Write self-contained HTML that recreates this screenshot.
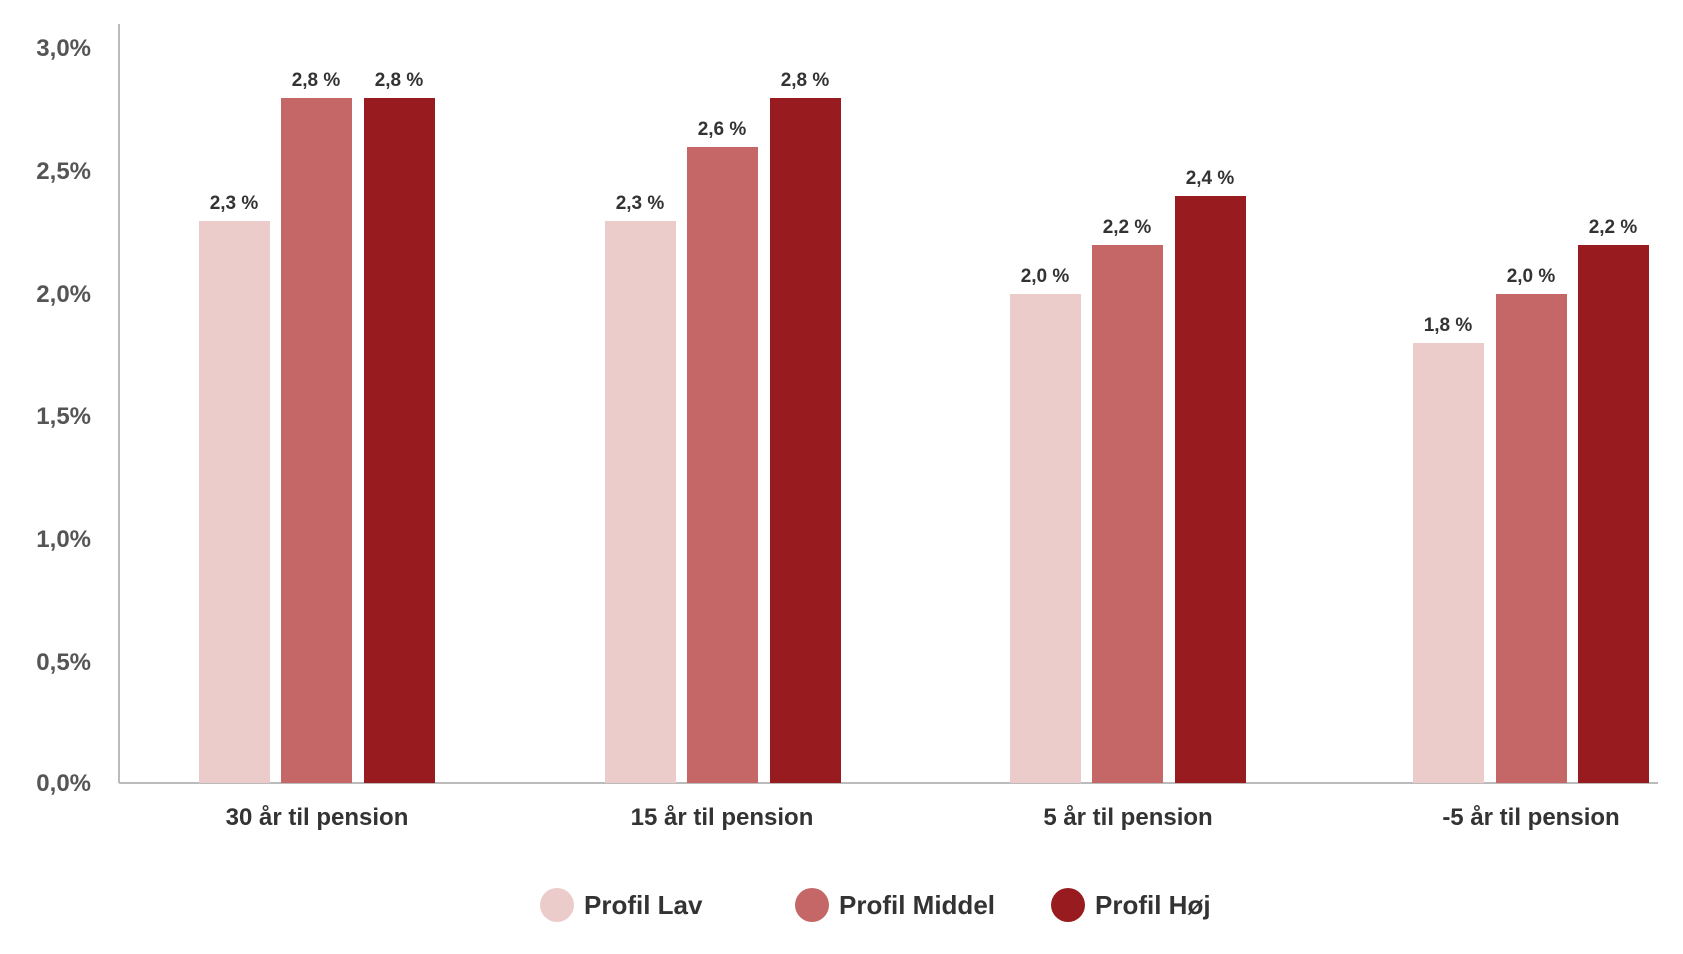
<!DOCTYPE html>
<html><head><meta charset="utf-8"><style>
body{margin:0;background:#fff}
text{font-family:"Liberation Sans",sans-serif}
</style></head><body>
<svg width="1683" height="949" viewBox="0 0 1683 949" xmlns="http://www.w3.org/2000/svg">
<g font-size="24" fill="#555" text-anchor="end" font-weight="bold">
<text x="91" y="56">3,0%</text>
<text x="91" y="179">2,5%</text>
<text x="91" y="302">2,0%</text>
<text x="91" y="424">1,5%</text>
<text x="91" y="547">1,0%</text>
<text x="91" y="670">0,5%</text>
<text x="91" y="791">0,0%</text>
</g>
<line x1="119" y1="24" x2="119" y2="783" stroke="#bbb" stroke-width="2"/>
<line x1="119" y1="783" x2="1658" y2="783" stroke="#bbb" stroke-width="2"/>
<g>
<rect x="199" y="221" width="71" height="562" fill="#ebcccb"/>
<rect x="281" y="98" width="71" height="685" fill="#c46766"/>
<rect x="364" y="98" width="71" height="685" fill="#971b1f"/>
<rect x="605" y="221" width="71" height="562" fill="#ebcccb"/>
<rect x="687" y="147" width="71" height="636" fill="#c46766"/>
<rect x="770" y="98" width="71" height="685" fill="#971b1f"/>
<rect x="1010" y="294" width="71" height="489" fill="#ebcccb"/>
<rect x="1092" y="245" width="71" height="538" fill="#c46766"/>
<rect x="1175" y="196" width="71" height="587" fill="#971b1f"/>
<rect x="1413" y="343" width="71" height="440" fill="#ebcccb"/>
<rect x="1496" y="294" width="71" height="489" fill="#c46766"/>
<rect x="1578" y="245" width="71" height="538" fill="#971b1f"/>
</g>
<g font-size="19" fill="#333" text-anchor="middle" font-weight="bold">
<text x="234" y="209">2,3 %</text>
<text x="316" y="86">2,8 %</text>
<text x="399" y="86">2,8 %</text>
<text x="640" y="209">2,3 %</text>
<text x="722" y="135">2,6 %</text>
<text x="805" y="86">2,8 %</text>
<text x="1045" y="282">2,0 %</text>
<text x="1127" y="233">2,2 %</text>
<text x="1210" y="184">2,4 %</text>
<text x="1448" y="331">1,8 %</text>
<text x="1531" y="282">2,0 %</text>
<text x="1613" y="233">2,2 %</text>
</g>
<g font-size="24" fill="#333" text-anchor="middle" font-weight="bold">
<text x="317" y="825">30 år til pension</text>
<text x="722" y="825">15 år til pension</text>
<text x="1128" y="825">5 år til pension</text>
<text x="1531" y="825">-5 år til pension</text>
</g>
<circle cx="557" cy="905" r="17" fill="#ebcccb"/>
<circle cx="812" cy="905" r="17" fill="#c46766"/>
<circle cx="1068" cy="905" r="17" fill="#971b1f"/>
<g font-size="26" fill="#333" font-weight="bold">
<text x="584" y="914">Profil Lav</text>
<text x="839" y="914">Profil Middel</text>
<text x="1095" y="914">Profil Høj</text>
</g>
</svg>
</body></html>
